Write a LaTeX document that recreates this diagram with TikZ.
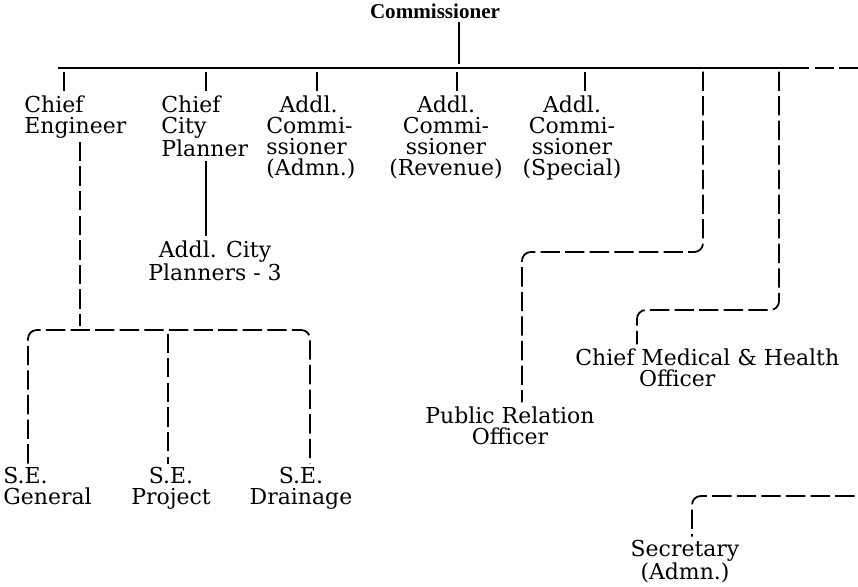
\documentclass[tikz,border=0pt]{standalone}
\usepackage{fontspec}
\setmainfont{DejaVu Serif}
\newfontfamily\headfont{Liberation Serif}
\usetikzlibrary{positioning}

\begin{document}
\begin{tikzpicture}[x=0.02cm, y=-0.02cm,
  every node/.style={inner sep=0pt, font=\fontsize{12.5}{12}\selectfont},
  post/.style={align=left},
  postc/.style={align=center},
  link/.style={line width=1pt, shorten <=2pt, shorten >=2pt},
  dlink/.style={link, dash pattern=on 11pt off 3pt},
  bus/.style={line width=1.5pt}]
  \useasboundingbox (0,0) rectangle (858,586);

  % head
  \node[font=\headfont\bfseries\fontsize{12}{12}\selectfont] (comm) at (435,11) {Commissioner};
  \coordinate (top) at (459,68);
  \coordinate (bus-l) at (58,68);
  \coordinate (bus-m) at (790,68);
  \coordinate (bus-r) at (858,68);

  % first row
  \node[post, anchor=north west] (ce) at (24,95) {Chief\\Engineer};
  \node[post, anchor=north west] (ccp) at (161,95) {Chief\\City\\Planner};
  \node[post, anchor=north west] (adm) at (266,95) {\hspace*{0.6em}Addl.\\Commi-\\ssioner\\(Admn.)};
  \node[postc, anchor=north] (rev) at (446,95) {Addl.\\Commi-\\ssioner\\(Revenue)};
  \node[postc, anchor=north] (spl) at (572,95) {Addl.\\Commi-\\ssioner\\(Special)};

  % lower posts
  \node[postc, anchor=north] (acp) at (215,240) {Addl. City\\Planners - 3};
  \node[post, anchor=north west] (seg) at (3,467) {S.E.\\General};
  \node[postc, anchor=north] (sep) at (171,467) {S.E.\\Project};
  \node[postc, anchor=north] (sed) at (301,467) {S.E.\\Drainage};
  \node[postc, anchor=north] (pro) at (510,406) {Public Relation\\Officer};
  \node[post, anchor=north west] (cmo) at (575,348) {Chief Medical \& Health\\\hspace*{2.9em}Officer};
  \node[postc, anchor=north] (sec) at (685,540) {Secretary\\(Admn.)};

  % drops from the bus
  \coordinate (d-ce) at (64,68);
  \coordinate (d-ccp) at (206,68);
  \coordinate (d-adm) at (317,68);
  \coordinate (d-rev) at (457,68);
  \coordinate (d-spl) at (585,68);
  \coordinate (d-pro) at (703,68);
  \coordinate (d-cmo) at (779,68);

  % bends
  \coordinate (j-ce) at (80,330);
  \coordinate (se-l) at (28,330);
  \coordinate (se-m) at (168,330);
  \coordinate (se-r) at (310,330);
  \coordinate (k-pro) at (703,252);
  \coordinate (t-pro) at (522,252);
  \coordinate (k-cmo) at (779,310);
  \coordinate (t-cmo) at (637,310);
  \coordinate (s-r) at (858,496);
  \coordinate (t-sec) at (692,496);

  \draw[bus] (bus-l) -- (bus-m);
  \draw[bus, dash pattern=on 11pt off 3pt] (bus-m) -- (bus-r);
  \draw[link] (comm.south -| top) -- (top);

  \draw[link] (d-ce) -- (d-ce |- ce.north);
  \draw[link] (d-ccp) -- (d-ccp |- ccp.north);
  \draw[link] (d-adm) -- (d-adm |- adm.north);
  \draw[link] (d-rev) -- (d-rev |- rev.north);
  \draw[link] (d-spl) -- (d-spl |- spl.north);

  \draw[link] (d-ccp |- ccp.south) -- (d-ccp |- acp.north);
  \draw[dlink] (j-ce |- ce.south) -- (j-ce);
  \draw[dlink, rounded corners=5pt] (se-l |- seg.north) -- (se-l) -- (se-r) -- (se-r |- sed.north);
  \draw[dlink] (se-m) -- (se-m |- sep.north);

  \draw[dlink, rounded corners=5pt] (d-pro) -- (k-pro) -- (t-pro) -- (t-pro |- pro.north);
  \draw[dlink, rounded corners=5pt] (d-cmo) -- (k-cmo) -- (t-cmo) -- (t-cmo |- cmo.north);
  \draw[dlink, rounded corners=5pt] (s-r) -- (t-sec) -- (t-sec |- sec.north);
\end{tikzpicture}
\end{document}
